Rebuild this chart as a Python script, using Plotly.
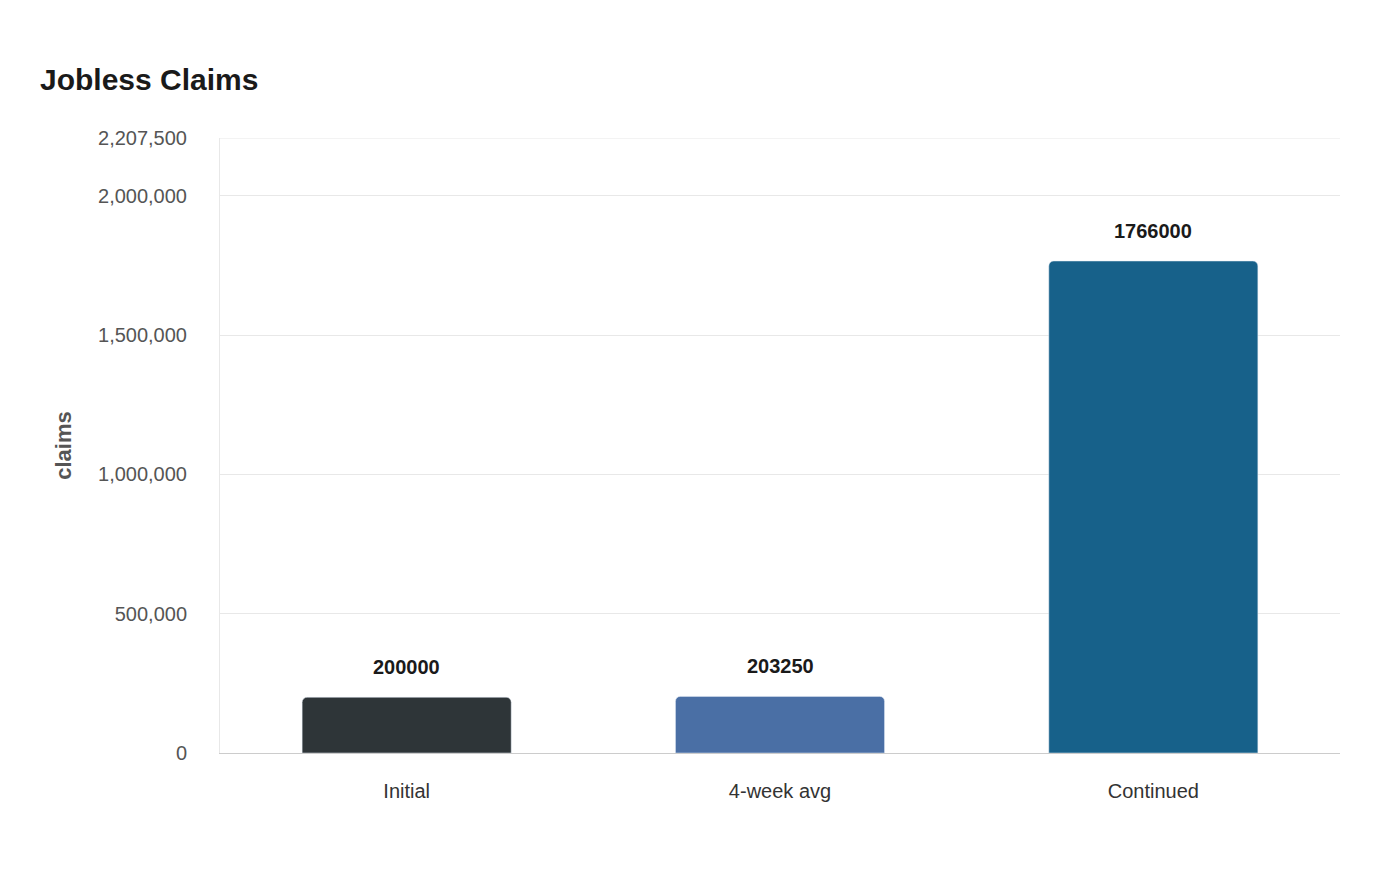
import plotly.graph_objects as go

categories = ["Initial", "4-week avg", "Continued"]
values = [200000, 203250, 1766000]
colors = ["#2e3538", "#4a6fa5", "#17618a"]
tick_vals = [0, 500000, 1000000, 1500000, 2000000, 2207500]
tick_text = ["0", "500,000", "1,000,000", "1,500,000", "2,000,000", "2,207,500"]

fig = go.Figure(go.Bar(
    x=categories, y=values, marker=dict(color=colors), width=0.56,
))
for c, v in zip(categories, values):
    fig.add_annotation(x=c, y=v, text=f"<b>{v}</b>", showarrow=False, yanchor="middle",
                       yshift=30, font=dict(size=20, color="#1a1a1a", family="Liberation Sans"))
fig.add_shape(type="line", xref="paper", yref="y", x0=0, x1=1, y0=2207500, y1=2207500,
              line=dict(color="#e8e8e8", width=1))
fig.update_layout(
    width=1400, height=880, barcornerradius=5,
    paper_bgcolor="white", plot_bgcolor="white",
    margin=dict(l=212, r=68, t=130, b=135),
    font=dict(family="Liberation Sans", size=20, color="#555"),
    title=dict(text="<b>Jobless Claims</b>", x=32/1400, xanchor="left", y=1-71/880, yanchor="middle",
               font=dict(size=30, color="#1a1a1a")),
    showlegend=False,
)
fig.update_yaxes(range=[0, 2207500], tickvals=tick_vals, ticktext=tick_text,
                 gridcolor="#e8e8e8", zeroline=False, showline=True, linecolor="#e8e8e8",
                 ticks="outside", ticklen=28, tickcolor="rgba(0,0,0,0)",
                 title=dict(text="<b>claims</b>", font=dict(size=22, color="#555"), standoff=20))
fig.update_xaxes(showline=True, linecolor="#cccccc", ticks="outside", ticklen=20,
                 tickcolor="rgba(0,0,0,0)", tickfont=dict(color="#333"))
fig.write_html("out.html")
